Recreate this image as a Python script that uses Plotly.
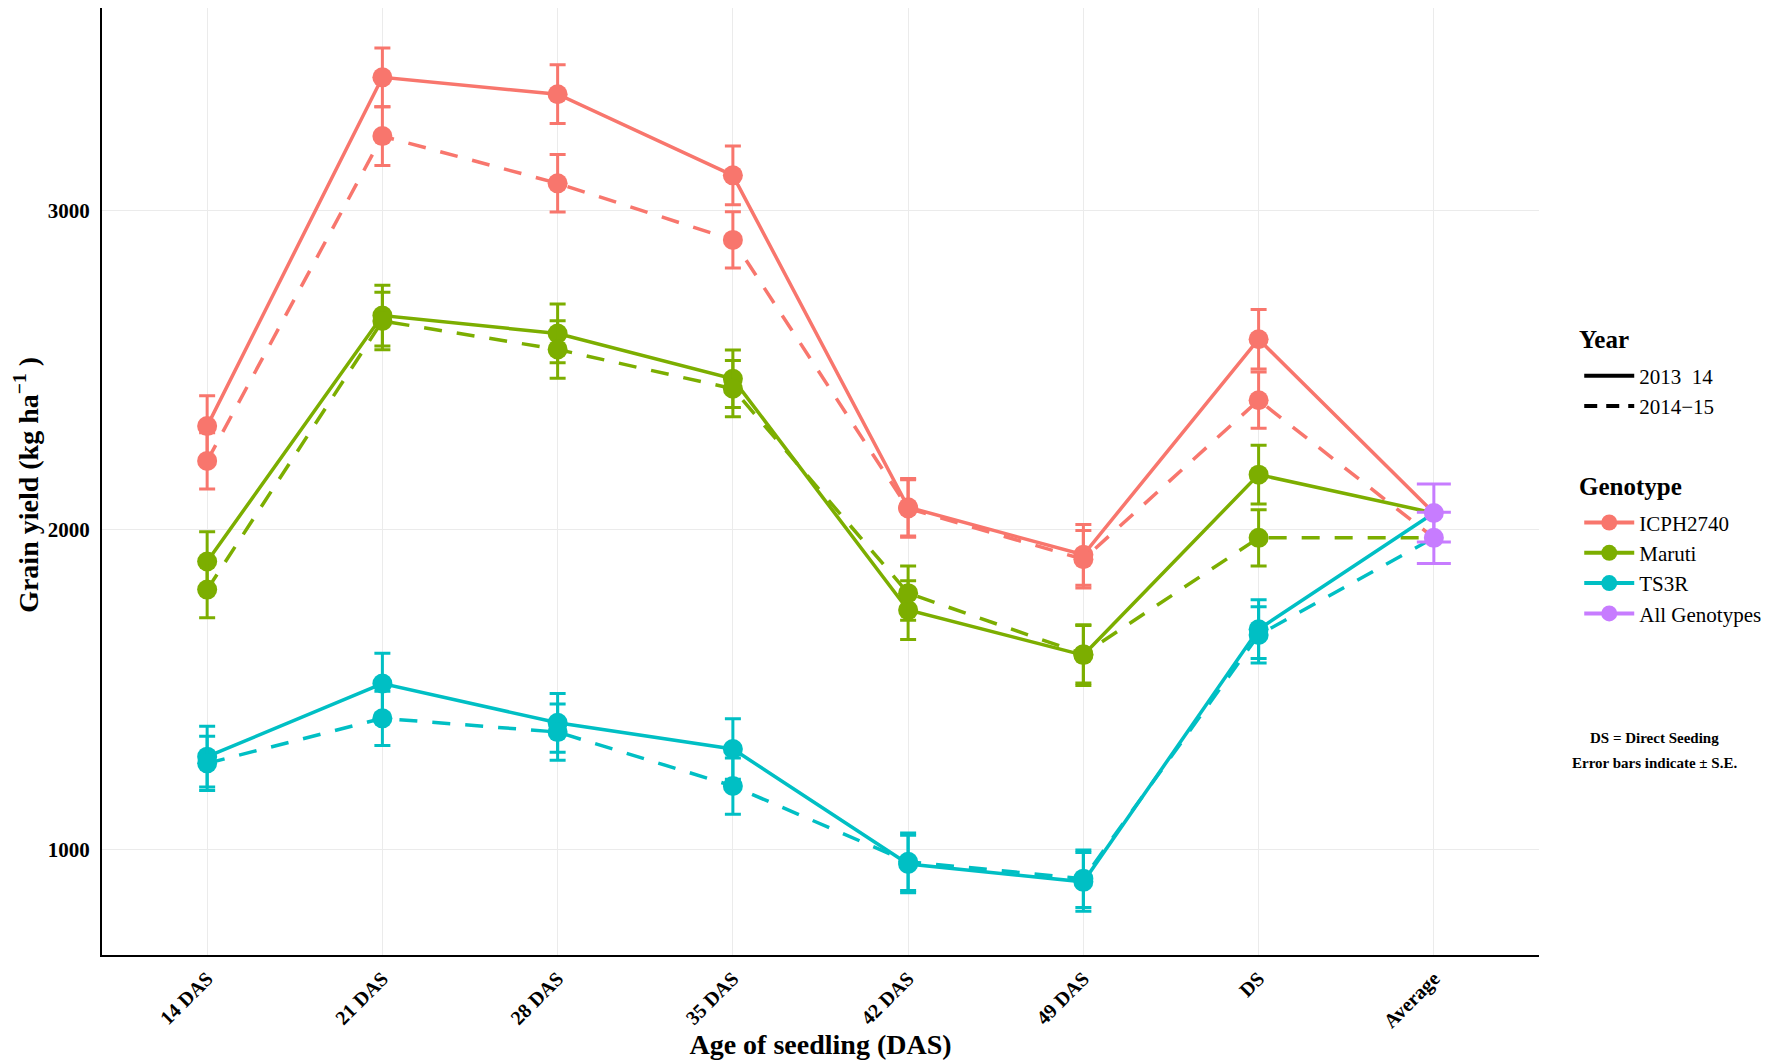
import plotly.graph_objects as go

# categories on the x axis
categories = ["14 DAS", "21 DAS", "28 DAS", "35 DAS", "42 DAS", "49 DAS", "DS", "Average"]
years = ["2013\u00a0\u00a014", "2014\u221215"]
genotypes = ["ICPH2740", "Maruti", "TS3R"]

# grain yield (kg/ha), 14 DAS ... DS
icph_1314 = [2325, 3417, 3364, 3110, 2071, 1922, 2597]
icph_1415 = [2216, 3233, 3085, 2908, 2067, 1908, 2406]
maruti_1314 = [1901, 2671, 2615, 2473, 1749, 1608, 2173]
maruti_1415 = [1813, 2654, 2565, 2442, 1802, 1611, 1975]
ts3r_1314 = [1290, 1519, 1396, 1314, 954, 898, 1689]
ts3r_1415 = [1269, 1410, 1367, 1198, 961, 908, 1671]

# standard errors
icph_1314_se = [95, 92, 92, 92, 90, 95, 93]
icph_1415_se = [88, 92, 90, 88, 90, 90, 88]
maruti_1314_se = [93, 95, 92, 90, 92, 95, 92]
maruti_1415_se = [88, 90, 90, 88, 85, 90, 88]
ts3r_1314_se = [95, 95, 92, 95, 90, 92, 92]
ts3r_1415_se = [85, 85, 88, 88, 90, 90, 88]

# all genotypes average per year
avg_yield = [2053, 1975]
avg_se = [91, 80]

colors = {"ICPH2740": "#F8766D", "Maruti": "#7CAE00", "TS3R": "#00BFC4", "All Genotypes": "#C77CFF"}
series = {
    ("ICPH2740", 0): (icph_1314, icph_1314_se),
    ("ICPH2740", 1): (icph_1415, icph_1415_se),
    ("Maruti", 0): (maruti_1314, maruti_1314_se),
    ("Maruti", 1): (maruti_1415, maruti_1415_se),
    ("TS3R", 0): (ts3r_1314, ts3r_1314_se),
    ("TS3R", 1): (ts3r_1415, ts3r_1415_se),
}
dashes = ["solid", "18px,15px"]
FONT = "Liberation Serif"

fig = go.Figure()

# lines (each genotype joins its year average)
for (g, yi), (vals, se) in series.items():
    fig.add_trace(
        go.Scatter(
            x=categories,
            y=vals + [avg_yield[yi]],
            mode="lines",
            line=dict(color=colors[g], width=3.5, dash=dashes[yi]),
            showlegend=False,
            hoverinfo="skip",
        )
    )

# points with error bars
for (g, yi), (vals, se) in series.items():
    fig.add_trace(
        go.Scatter(
            x=categories[:-1],
            y=vals,
            mode="markers",
            marker=dict(color=colors[g], size=20),
            error_y=dict(type="data", array=se, color=colors[g], thickness=3, width=8),
            showlegend=False,
            name=f"{g} {years[yi]}",
        )
    )

fig.add_trace(
    go.Scatter(
        x=[categories[-1]] * 2,
        y=avg_yield,
        mode="markers",
        marker=dict(color=colors["All Genotypes"], size=20),
        error_y=dict(type="data", array=avg_se, color=colors["All Genotypes"], thickness=3, width=17),
        showlegend=False,
        name="All Genotypes",
    )
)

# legend entries: Year
for yi, yr in enumerate(years):
    fig.add_trace(
        go.Scatter(
            x=[None],
            y=[None],
            mode="lines",
            name=yr,
            line=dict(color="black", width=4, dash=["solid", "13px,9px"][yi]),
            legend="legend",
        )
    )

# legend entries: Genotype
for g in genotypes + ["All Genotypes"]:
    fig.add_trace(
        go.Scatter(
            x=[None],
            y=[None],
            mode="lines+markers",
            name=g,
            line=dict(color=colors[g], width=4),
            marker=dict(color=colors[g], size=18),
            legend="legend2",
        )
    )

note_font = dict(size=15, family=FONT, weight="bold")
head_font = dict(size=25, family=FONT, weight="bold")

# page has an 8px body margin, so the figure is 8px smaller than the window
fig.update_layout(
    width=1764,
    height=1055,
    margin=dict(l=94, r=233, t=0, b=108),
    plot_bgcolor="white",
    paper_bgcolor="white",
    font=dict(family=FONT, color="black"),
    legend=dict(
        x=1.028,
        y=0.633,
        xanchor="left",
        yanchor="top",
        font=dict(size=21, family=FONT),
        itemwidth=50,
        bgcolor="rgba(0,0,0,0)",
    ),
    legend2=dict(
        x=1.028,
        y=0.478,
        xanchor="left",
        yanchor="top",
        font=dict(size=21, family=FONT),
        itemwidth=50,
        bgcolor="rgba(0,0,0,0)",
    ),
    xaxis=dict(
        type="category",
        categoryorder="array",
        categoryarray=categories,
        range=[-0.6, 7.6],
        showgrid=True,
        gridcolor="#EBEBEB",
        gridwidth=1,
        showline=True,
        linecolor="black",
        linewidth=2,
        ticks="",
        tickangle=-45,
        ticklabelstandoff=2,
        tickfont=dict(size=20, family=FONT, weight="bold"),
        title=dict(
            text="Age of seedling (DAS)",
            font=dict(size=28, family=FONT, weight="bold"),
            standoff=0,
        ),
        fixedrange=True,
    ),
    yaxis=dict(
        range=[669, 3634],
        tickvals=[1000, 2000, 3000],
        showgrid=True,
        gridcolor="#EBEBEB",
        gridwidth=1,
        zeroline=False,
        showline=True,
        linecolor="black",
        linewidth=2,
        ticks="",
        ticklabelstandoff=6,
        tickfont=dict(size=21, family=FONT, weight="bold"),
    ),
    annotations=[
        dict(
            text="Grain yield (kg ha<sup>\u22121</sup> )",
            textangle=-90,
            xref="paper", yref="paper", x=-0.0525, y=0.496,
            xanchor="center", yanchor="middle", showarrow=False,
            font=dict(size=28, family=FONT, weight="bold"),
        ),
        dict(
            text="Year",
            xref="paper", yref="paper", x=1.0264, y=(947 - 331) / 947,
            xanchor="left", yanchor="middle", showarrow=False, font=head_font,
        ),
        dict(
            text="Genotype",
            xref="paper", yref="paper", x=1.0264, y=(947 - 478) / 947,
            xanchor="left", yanchor="middle", showarrow=False, font=head_font,
        ),
        dict(
            text="DS = Direct Seeding",
            xref="paper", yref="paper", x=1.0807, y=0.229,
            xanchor="center", yanchor="middle", showarrow=False, font=note_font,
        ),
        dict(
            text="Error bars indicate \u00b1 S.E.",
            xref="paper", yref="paper", x=1.0807, y=0.203,
            xanchor="center", yanchor="middle", showarrow=False, font=note_font,
        ),
    ],
)

fig.write_html("out.html")
